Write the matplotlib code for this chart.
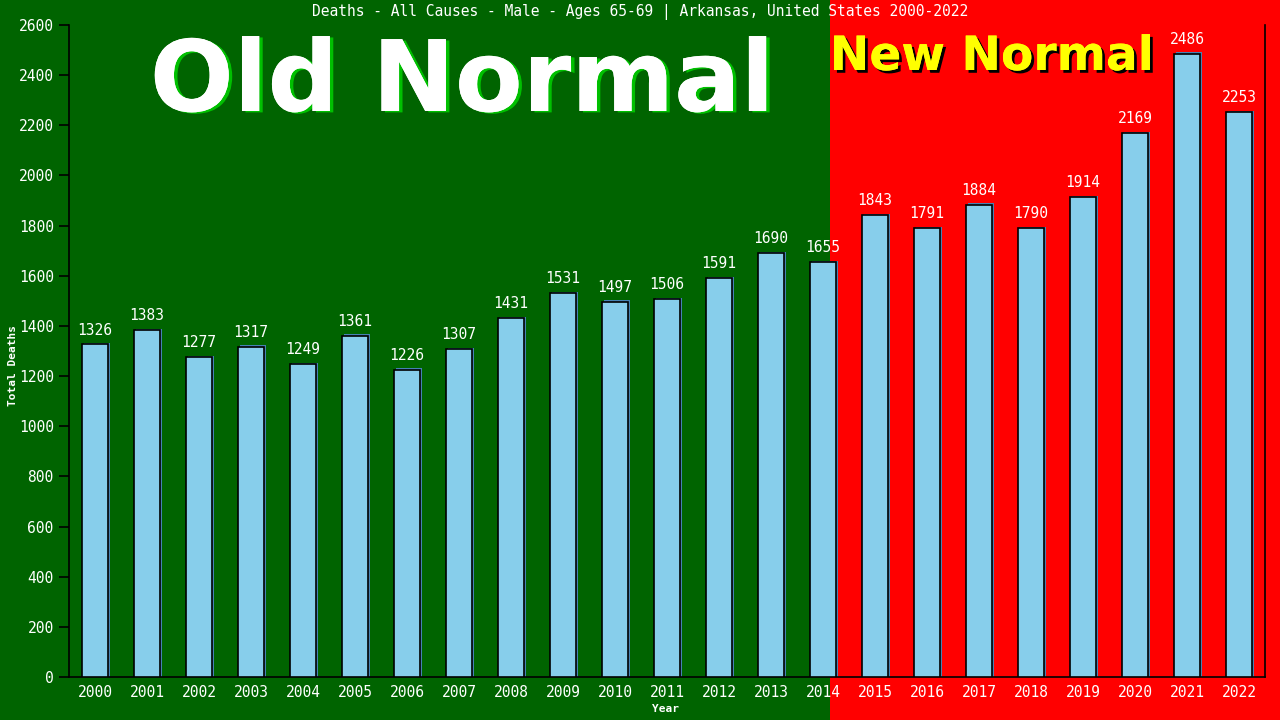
import matplotlib
matplotlib.use('Agg')
from matplotlib import pyplot as plt
from matplotlib.patches import Rectangle
import matplotlib.patheffects as pe

years = ['2000', '2001', '2002', '2003', '2004', '2005', '2006', '2007', '2008',
         '2009', '2010', '2011', '2012', '2013', '2014', '2015', '2016', '2017',
         '2018', '2019', '2020', '2021', '2022']
deaths = [1326, 1383, 1277, 1317, 1249, 1361, 1226, 1307, 1431, 1531, 1497, 1506,
          1591, 1690, 1655, 1843, 1791, 1884, 1790, 1914, 2169, 2486, 2253]
y_ticks = list(range(0, 2601, 200))

GREEN = '#006400'
RED = '#ff0000'
BAR = '#87ceeb'
SHADOW = '#4682b4'
FONT = 'DejaVu Sans Mono'

fig = plt.figure(figsize=(12.8, 7.2), dpi=100)
fig.patch.set_facecolor(GREEN)
ax = fig.add_axes([69 / 1280, 43 / 720, 1196 / 1280, 652 / 720])
ax.set_facecolor('none')

x = list(range(len(years)))
ax.set_xlim(-0.5, len(years) - 0.5)
ax.set_ylim(0, 2600)

# background split: green (old normal) / red (new normal)
split = 14.13
fig.canvas.draw()
split_fig = fig.transFigure.inverted().transform(ax.transData.transform((split, 0)))[0]
fig.patches.append(Rectangle((0, 0), split_fig, 1, transform=fig.transFigure,
                             facecolor=GREEN, edgecolor='none', zorder=-10))
fig.patches.append(Rectangle((split_fig, 0), 1 - split_fig, 1, transform=fig.transFigure,
                             facecolor=RED, edgecolor='none', zorder=-10))

# shadow bars then main bars
ax.bar([i + 0.03 for i in x], [d + 5 for d in deaths], width=0.5, color=SHADOW,
       edgecolor='none', zorder=2)
ax.bar(x, deaths, width=0.5, color=BAR, edgecolor='black', linewidth=1.2, zorder=3)

for i, d in zip(x, deaths):
    ax.annotate(str(d), (i, d), xytext=(0, 5), textcoords='offset points',
                ha='center', va='bottom', color='white', fontsize=10.5,
                family=FONT, zorder=4)

ax.set_xticks(x)
ax.set_xticklabels(years, family=FONT, fontsize=10.5, color='white')
ax.set_yticks(y_ticks)
ax.set_yticklabels([str(t) for t in y_ticks], family=FONT, fontsize=10.5, color='white')
ax.tick_params(axis='x', length=0, pad=6)
ax.tick_params(axis='y', length=7, width=1.2, color='black', pad=4)

for side in ['left', 'bottom', 'right']:
    ax.spines[side].set_color('black')
    ax.spines[side].set_linewidth(1.2)
ax.spines['top'].set_visible(False)

fig.text(666 / 1280, 1 - 709 / 720, 'Year', ha='center', va='center',
         family=FONT, fontsize=8, color='white', fontweight='bold')
fig.text(13 / 1280, 1 - 366 / 720, 'Total Deaths', ha='center', va='center', rotation=90,
         family=FONT, fontsize=8, color='white', fontweight='bold')

fig.text(640 / 1280, 1 - 12 / 720,
         'Deaths - All Causes - Male - Ages 65-69 | Arkansas, United States 2000-2022',
         ha='center', va='center', color='white', family=FONT, fontsize=10.5)

fig.text(462 / 1280, 1 - 111 / 720, 'Old Normal', ha='center', va='baseline',
         color='white', fontsize=71, fontweight='bold', family='DejaVu Sans',
         path_effects=[pe.withSimplePatchShadow(offset=(2.5, -1), shadow_rgbFace='#00c000', alpha=1),
                       pe.Normal()])
fig.text(992 / 1280, 1 - 70 / 720, 'New Normal', ha='center', va='baseline',
         color='yellow', fontsize=34, fontweight='bold', family='DejaVu Sans',
         path_effects=[pe.withSimplePatchShadow(offset=(2, -2), shadow_rgbFace='black', alpha=1),
                       pe.Normal()])

fig.savefig('out.png', dpi=100, facecolor=fig.get_facecolor())
